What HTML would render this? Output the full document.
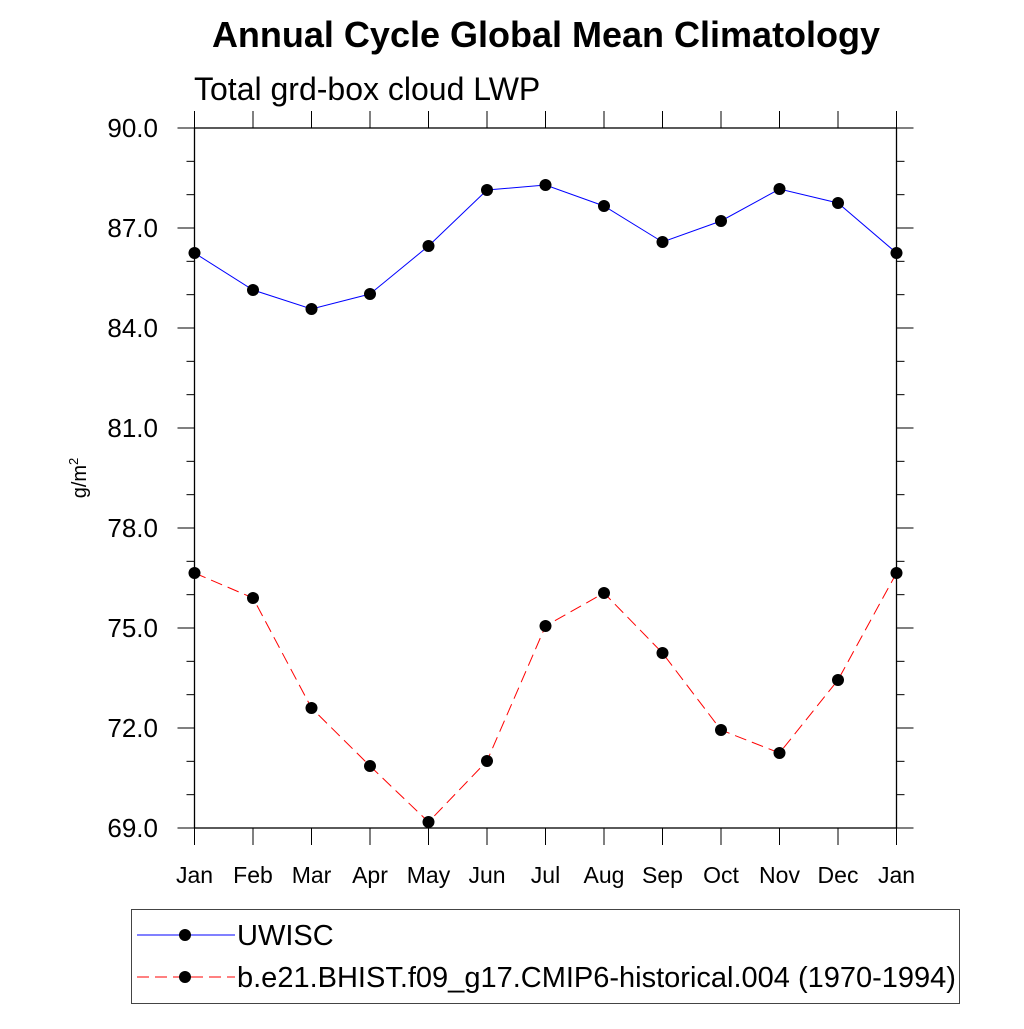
<!DOCTYPE html>
<html><head><meta charset="utf-8"><style>
body{margin:0;background:#fff;}
svg text{font-family:"Liberation Sans",sans-serif;}
</style></head><body>
<svg width="1024" height="1024" xmlns="http://www.w3.org/2000/svg" id="chart">
<text x="546" y="47" text-anchor="middle" font-size="36" font-weight="bold">Annual Cycle Global Mean Climatology</text>
<text x="194" y="100" font-size="32">Total grd-box cloud LWP</text>
<text transform="translate(86,478) rotate(-90)" text-anchor="middle" font-size="20">g/m<tspan dy="-8" font-size="13">2</tspan></text>
<g id="axes"></g>
<g id="series"></g>
<g>
<rect x="131.5" y="909.5" width="828" height="94" fill="none" stroke="#444" stroke-width="1"/>
<g>
<line x1="137" y1="935" x2="235" y2="935" stroke="blue" stroke-width="1"/>
<circle cx="185" cy="935" r="6" fill="#000"/>
<text x="237" y="945" font-size="29">UWISC</text></g>
<g>
<line x1="137" y1="977" x2="235" y2="977" stroke="red" stroke-width="1" stroke-dasharray="12,6"/>
<circle cx="185" cy="977" r="6" fill="#000"/>
<text x="237" y="987" font-size="29">b.e21.BHIST.f09_g17.CMIP6-historical.004 (1970-1994)</text></g>
</g>
</svg>
<script>
const months=["Jan","Feb","Mar","Apr","May","Jun","Jul","Aug","Sep","Oct","Nov","Dec","Jan"];
const uwisc=[86.25,85.14,84.57,85.02,86.46,88.14,88.29,87.66,86.58,87.21,88.17,87.75,86.25];
const model=[76.65,75.9,72.6,70.86,69.18,71.01,75.06,76.05,74.25,71.94,71.25,73.44,76.65];
const yTicks=[69,72,75,78,81,84,87,90];
const yTickLabels=["69.0","72.0","75.0","78.0","81.0","84.0","87.0","90.0"];
const Y0=69,Y1=90,L=194.5,R=896.5,T=128,B=828;
const xs=i=>L+i*(R-L)/12;
const ys=v=>B-(v-Y0)/(Y1-Y0)*(B-T);
const NS="http://www.w3.org/2000/svg";
function mk(tag,attrs,parent){const e=document.createElementNS(NS,tag);for(const k in attrs)e.setAttribute(k,attrs[k]);parent.appendChild(e);return e;}
const ax=document.getElementById('axes');
const frame=mk('rect',{x:L,y:T,width:R-L,height:B-T,fill:'none',stroke:'#000','stroke-width':1.3},ax);


for(let v=Y0;v<=Y1;v++){
  const major=(v-Y0)%3===0, len=major?17:8, y=ys(v);
  const t1=mk('line',{x1:L-len,y1:y,x2:L,y2:y,stroke:'#000','stroke-width':1},ax);
  
  
  const t2=mk('line',{x1:R,y1:y,x2:R+len,y2:y,stroke:'#000','stroke-width':1},ax);
  
  
}
yTicks.forEach((v,i)=>{
  const t=mk('text',{x:158,y:ys(v)+9,'text-anchor':'end','font-size':26},ax);
  t.textContent=yTickLabels[i];
  
  
});
months.forEach((m,i)=>{
  const x=xs(i);
  const a=mk('line',{x1:x,y1:B,x2:x,y2:B+17,stroke:'#000','stroke-width':1},ax);
  
  
  const b=mk('line',{x1:x,y1:T-17,x2:x,y2:T,stroke:'#000','stroke-width':1},ax);
  
  
  const t=mk('text',{x:x,y:883,'text-anchor':'middle','font-size':23},ax);
  t.textContent=m;
  
  
});
const sg=document.getElementById('series');
function draw(vals,color,dash,name){
  const p=mk('polyline',{points:vals.map((v,i)=>xs(i)+','+ys(v)).join(' '),fill:'none',stroke:color,'stroke-width':1,'stroke-dasharray':dash},sg);
  
  
  vals.forEach((v,i)=>{
    const c=mk('circle',{cx:xs(i),cy:ys(v),r:6,fill:'#000'},sg);
    
    
  });
}
draw(uwisc,'blue','none','uwisc');
draw(model,'red','12,6','model');
</script>
</body></html>
